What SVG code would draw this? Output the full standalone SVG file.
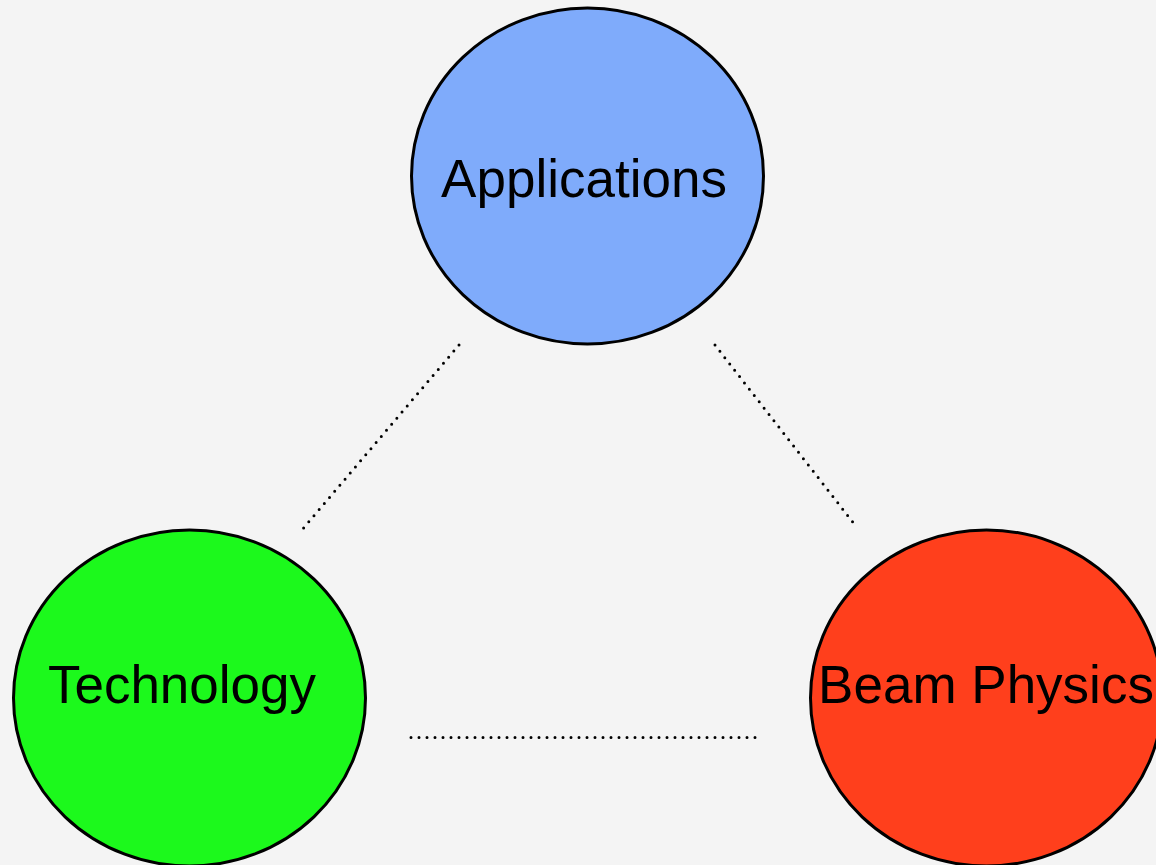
<svg xmlns="http://www.w3.org/2000/svg" width="1156" height="865" viewBox="0 0 1156 865">
  <style>
    .node ellipse { stroke: #000; stroke-width: 3; }
    .node text { font-family: "Liberation Sans", Arial, sans-serif; font-size: 53px; fill: #000; text-anchor: middle; }
    .link { stroke: #000; stroke-width: 3; stroke-dasharray: 0 8; stroke-linecap: round; fill: none; }
  </style>
  <rect width="1156" height="865" fill="#f4f4f4"/>

  <!-- dotted connectors between the three areas -->
  <g id="connectors">
    <line class="link" x1="459" y1="345" x2="301" y2="531"/>
    <line class="link" x1="715" y1="345" x2="855" y2="525"/>
    <line class="link" x1="411" y1="737.5" x2="758" y2="737.5"/>
  </g>

  <g id="applications" class="node">
    <ellipse cx="587.5" cy="176" rx="176" ry="168" fill="#7fabfb"/>
    <text x="584" y="197">Applications</text>
  </g>

  <g id="technology" class="node">
    <ellipse cx="189.5" cy="698" rx="176" ry="168" fill="#1cf91c"/>
    <text x="182" y="703">Technology</text>
  </g>

  <g id="beam-physics" class="node">
    <ellipse cx="986.5" cy="698" rx="176" ry="168" fill="#ff3f1c"/>
    <text x="986" y="703">Beam Physics</text>
  </g>
</svg>
